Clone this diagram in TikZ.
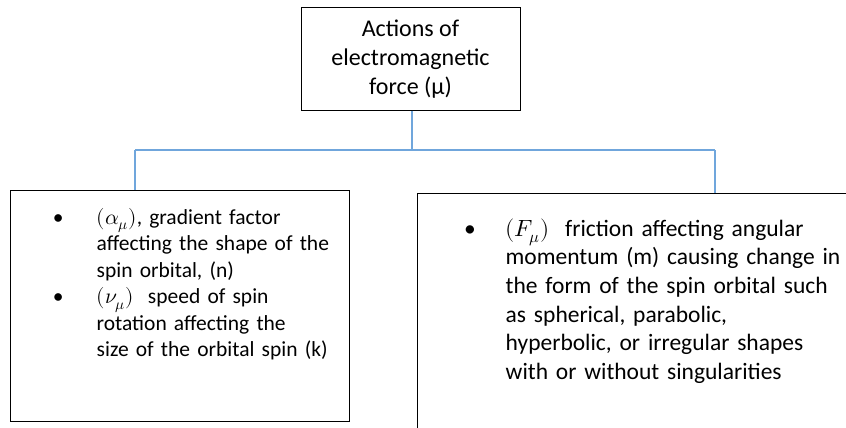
\documentclass[tikz,border=0pt]{standalone}
\usepackage{fontspec}
\usepackage{unicode-math}
\setmainfont{Carlito}
\setmathfont{Latin Modern Math}
\usepackage{enumitem}
\usetikzlibrary{positioning}

\definecolor{linkblue}{RGB}{112,166,220}

\tikzset{
  box/.style={draw=black, line width=1pt, inner sep=0pt},
  link/.style={draw=linkblue, line width=1.3pt},
  itemtext/.style={anchor=north west, inner sep=0pt, align=left}
}

\begin{document}
\begin{tikzpicture}[x=1pt,y=-1pt]
  \useasboundingbox (0,0) rectangle (846,428);
  % boxes
  \node[box, minimum width=219pt, minimum height=102pt, align=center,
        font=\fontsize{24}{29}\selectfont] (title) at (410.5,59)
        {Actions of\\electromagnetic\\force (μ)};
  \node[box, minimum width=339pt, minimum height=231pt] (left) at (179.5,305.5) {};
  \node[box, minimum width=483pt, minimum height=287pt] (right) at (658.5,336.5) {};
  % texts
  \node[itemtext, text width=300pt, font=\fontsize{21.5}{26.5}\selectfont]
        (lefttext) at ([xshift=30pt,yshift=-8pt]left.north west) {%
    \begin{itemize}[leftmargin=57pt, labelsep=33pt, label=\textbullet,
                    topsep=0pt, partopsep=0pt, itemsep=0pt, parsep=0pt]
      \item $(\alpha_{\mu})$, gradient factor\\ affecting the shape of the\\ spin orbital, (n)
      \item $(\nu_{\mu})$\ \ speed of spin\\ rotation affecting the\\ size of the orbital spin (k)
    \end{itemize}};
  \node[itemtext, text width=420pt, font=\fontsize{23.5}{28.6}\selectfont]
        (righttext) at ([xshift=30pt,yshift=-15pt]right.north west) {%
    \begin{itemize}[leftmargin=59pt, labelsep=30pt, label=\textbullet,
                    topsep=0pt, partopsep=0pt, itemsep=0pt, parsep=0pt]
      \item $(F_{\mu})$\ \ friction affecting angular\\ momentum (m) causing change in\\
            the form of the spin orbital such\\ as spherical, parabolic,\\
            hyperbolic, or irregular shapes\\ with or without singularities
    \end{itemize}};
  % connectors
  \coordinate (forkL) at (135,150);
  \coordinate (forkR) at (715,150);
  \draw[link] ([xshift=1.5pt]title.south) -- ([xshift=1.5pt]title.south |- forkL);
  \draw[link] (forkL) -- (forkR);
  \draw[link] (forkL) -- (forkL |- left.north);
  \draw[link] (forkR) -- (forkR |- right.north);
\end{tikzpicture}
\end{document}
